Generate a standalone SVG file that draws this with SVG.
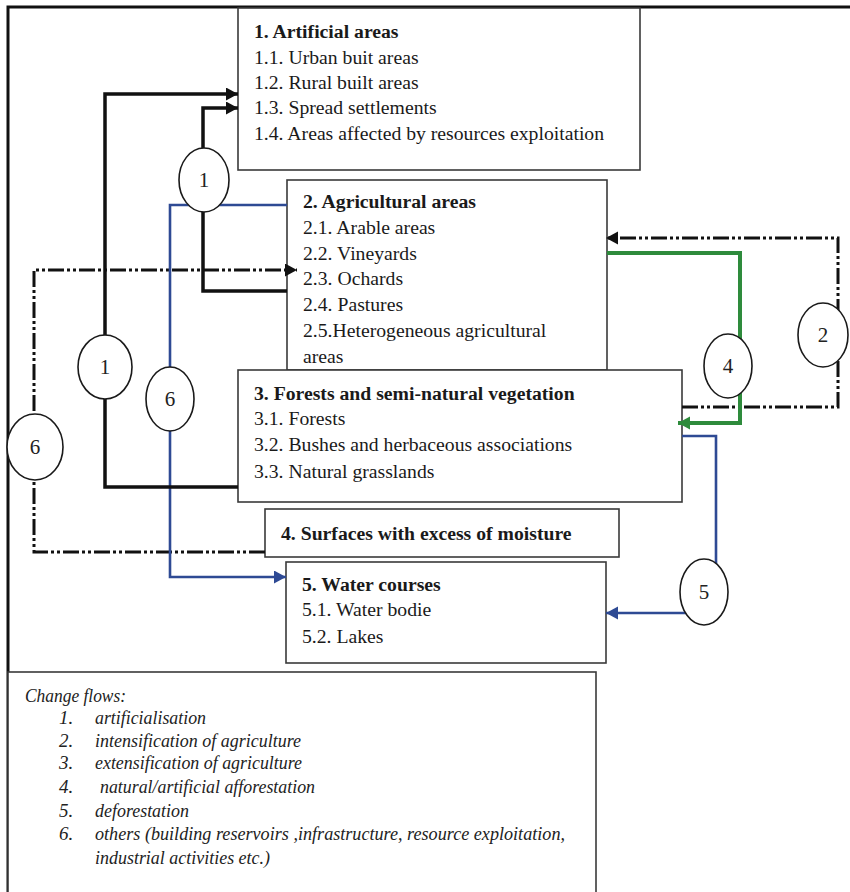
<svg xmlns="http://www.w3.org/2000/svg" width="850" height="892" viewBox="0 0 850 892">
<style>
.t{font-family:"Liberation Serif","Times New Roman",serif;font-size:19.7px;fill:#1a1a1a}
.b{font-weight:bold}
.lg{font-family:"Liberation Serif","Times New Roman",serif;font-style:italic;font-size:19px;fill:#222}
.box{fill:#fff;stroke:#3a3a3a;stroke-width:1.6}
.k{fill:none;stroke:#111;stroke-width:3.5}
.kd{fill:none;stroke:#111;stroke-width:3;stroke-dasharray:16 3 3 3 3 3}
.bl{fill:none;stroke:#2e4a94;stroke-width:2.6}
.gr{fill:none;stroke:#2e8b3c;stroke-width:4}
.oval{fill:#fff;stroke:#1a1a1a;stroke-width:1.6}
.n{font-family:"Liberation Serif","Times New Roman",serif;font-size:21px;fill:#222;text-anchor:middle}
</style>
<defs>
<marker id="ak" markerUnits="userSpaceOnUse" markerWidth="14" markerHeight="14" refX="12" refY="6.5" orient="auto" viewBox="0 0 14 14"><path d="M0,0 L12,6.5 L0,13 z" fill="#111"/></marker>
<marker id="ab" markerUnits="userSpaceOnUse" markerWidth="14" markerHeight="14" refX="12" refY="6.5" orient="auto" viewBox="0 0 14 14"><path d="M0,0 L12,6.5 L0,13 z" fill="#2e4a94"/></marker>
<marker id="ag" markerUnits="userSpaceOnUse" markerWidth="14" markerHeight="14" refX="12" refY="6.5" orient="auto" viewBox="0 0 14 14"><path d="M0,0 L12,6.5 L0,13 z" fill="#2e8b3c"/></marker>
</defs>
<rect width="850" height="892" fill="#fff"/>
<path d="M8,892 V7 H850" fill="none" stroke="#111" stroke-width="3"/>

<g id="box2">
<rect class="box" x="287" y="180" width="320" height="190"/>
<text class="t b" x="303" y="208">2. Agricultural areas</text>
<text class="t" x="303" y="234">2.1. Arable areas</text>
<text class="t" x="303" y="260">2.2. Vineyards</text>
<text class="t" x="303" y="285">2.3. Ochards</text>
<text class="t" x="303" y="311">2.4. Pastures</text>
<text class="t" x="303" y="337">2.5.Heterogeneous agricultural</text>
<text class="t" x="303" y="363">areas</text>
</g>
<g id="box1">
<rect class="box" x="238" y="8" width="402" height="162"/>
<text class="t b" x="254" y="38">1. Artificial areas</text>
<text class="t" x="254" y="64">1.1. Urban buit areas</text>
<text class="t" x="254" y="89">1.2. Rural built areas</text>
<text class="t" x="254" y="114">1.3. Spread settlements</text>
<text class="t" x="254" y="140">1.4. Areas affected by resources exploitation</text>
</g>
<g id="box3">
<rect class="box" x="238" y="370" width="444" height="132"/>
<text class="t b" x="254" y="400">3. Forests and semi-natural vegetation</text>
<text class="t" x="254" y="425">3.1. Forests</text>
<text class="t" x="254" y="451">3.2. Bushes and herbaceous associations</text>
<text class="t" x="254" y="478">3.3. Natural grasslands</text>
</g>
<g id="box4">
<rect class="box" x="265" y="509" width="354" height="48"/>
<text class="t b" x="281" y="540">4. Surfaces with excess of moisture</text>
</g>
<g id="box5">
<rect class="box" x="286" y="562" width="320" height="101"/>
<text class="t b" x="302" y="591">5. Water courses</text>
<text class="t" x="302" y="616">5.1. Water bodie</text>
<text class="t" x="302" y="643">5.2. Lakes</text>
</g>
<g id="legend">
<rect class="box" x="8" y="672" width="588" height="240"/>
<text class="lg" x="25" y="702" textLength="101" lengthAdjust="spacingAndGlyphs">Change flows:</text>
<text class="lg" x="59" y="724">1.</text>
<text class="lg" x="95" y="724" textLength="111" lengthAdjust="spacingAndGlyphs">artificialisation</text>
<text class="lg" x="59" y="747">2.</text>
<text class="lg" x="95" y="747" textLength="206" lengthAdjust="spacingAndGlyphs">intensification of agriculture</text>
<text class="lg" x="59" y="769">3.</text>
<text class="lg" x="95" y="769" textLength="207" lengthAdjust="spacingAndGlyphs">extensification of agriculture</text>
<text class="lg" x="59" y="793">4.</text>
<text class="lg" x="100" y="793" textLength="215" lengthAdjust="spacingAndGlyphs">natural/artificial afforestation</text>
<text class="lg" x="59" y="817">5.</text>
<text class="lg" x="95" y="817" textLength="94" lengthAdjust="spacingAndGlyphs">deforestation</text>
<text class="lg" x="59" y="840">6.</text>
<text class="lg" x="95" y="840" textLength="470" lengthAdjust="spacingAndGlyphs">others (building reservoirs ,infrastructure,  resource exploitation,</text>
<text class="lg" x="95" y="864" textLength="175" lengthAdjust="spacingAndGlyphs">industrial activities etc.)</text>
</g>

<g id="connectors">
<g id="flow6-black">
<path class="kd" d="M265,552 H34 V270 H297" marker-end="url(#ak)"/>
<ellipse class="oval" cx="35" cy="447" rx="28" ry="33"/>
<text class="n" x="35" y="454">6</text>
</g>
<g id="flow6-blue">
<path class="bl" d="M287,205 H170 V577 H286" marker-end="url(#ab)"/>
<ellipse class="oval" cx="170" cy="399" rx="24" ry="32"/>
<text class="n" x="170" y="406">6</text>
</g>
<g id="flow1-a">
<path class="k" d="M238,487 H105 V94 H238" marker-end="url(#ak)"/>
<ellipse class="oval" cx="105" cy="367" rx="27" ry="32"/>
<text class="n" x="105" y="374">1</text>
</g>
<g id="flow1-b">
<path class="k" d="M287,291 H203 V108 H238" marker-end="url(#ak)"/>
<ellipse class="oval" cx="204" cy="180" rx="25" ry="32"/>
<text class="n" x="204" y="187">1</text>
</g>
<g id="flow2">
<path class="kd" d="M682,407 H838 V238 H606" marker-end="url(#ak)"/>
<ellipse class="oval" cx="823" cy="335" rx="25" ry="32"/>
<text class="n" x="823" y="342">2</text>
</g>
<g id="flow4">
<path class="gr" d="M607,253 H740 V423 H678" marker-end="url(#ag)"/>
<ellipse class="oval" cx="728" cy="366" rx="24" ry="32"/>
<text class="n" x="728" y="373">4</text>
</g>
<g id="flow5">
<path class="bl" d="M682,436 H716 V600 M700,613 H606" marker-end="url(#ab)"/>
<ellipse class="oval" cx="704" cy="592" rx="24" ry="33"/>
<text class="n" x="704" y="599">5</text>
</g>
</g>
</svg>
